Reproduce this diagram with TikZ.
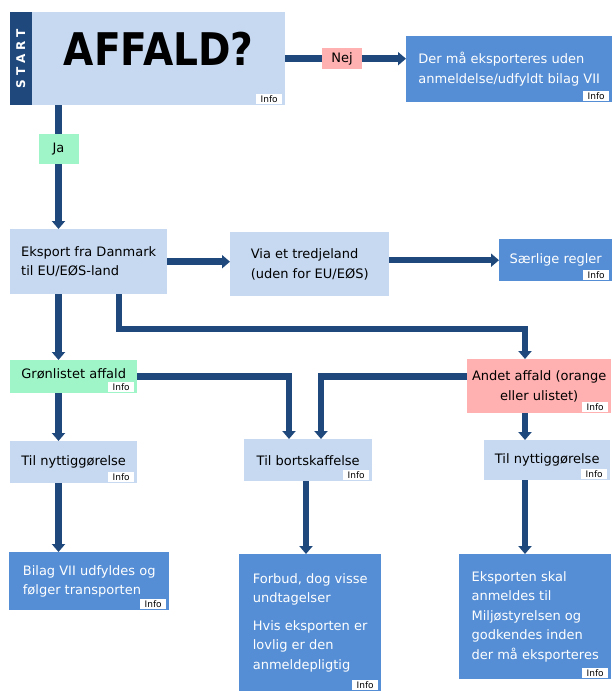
\documentclass[tikz,border=0pt]{standalone}
\usepackage{graphicx}
\usepackage{fontspec}
\setmainfont{DejaVu Sans}
\usetikzlibrary{arrows.meta}

\definecolor{flowblue}{HTML}{1F497D}
\definecolor{boxlight}{HTML}{C6D9F1}
\definecolor{boxmid}{HTML}{558ED5}
\definecolor{boxgreen}{HTML}{A0F5C8}
\definecolor{boxpink}{HTML}{FFB0B0}

\begin{document}
\begin{tikzpicture}[
    x=1pt, y=-1pt,
    box/.style={
        rectangle,
        anchor=north west,
        inner sep=2pt,
        align=left,
        font=\fontsize{13}{19.5}\selectfont
    },
    question/.style={box, fill=boxlight, align=center},
    stepbox/.style={box, fill=boxlight},
    resultbox/.style={box, fill=boxmid, text=white},
    greenbox/.style={box, fill=boxgreen, align=center},
    pinkbox/.style={box, fill=boxpink, align=center},
    answer/.style={
        rectangle,
        inner sep=0pt,
        minimum width=40pt,
        font=\fontsize{13}{15}\selectfont
    },
    infotag/.style={
        rectangle,
        fill=white,
        anchor=south east,
        inner xsep=4.5pt,
        inner ysep=1.2pt,
        font=\fontsize{9}{9}\selectfont
    },
    flow/.style={-{Triangle[width=13pt,length=8pt]}, line width=6.5pt, draw=flowblue}
]
\useasboundingbox (0,0) rectangle (612,691);

% Start
\node[question, minimum width=253pt, minimum height=93pt,
      text height=33pt, text depth=20pt,
      font=\bfseries\fontsize{45}{45}\selectfont] (start) at (32,12)
{\scalebox{0.87}[1]{AFFALD?}};

\node[rectangle, fill=flowblue, anchor=north east, inner sep=0pt,
      minimum width=22pt, minimum height=93pt, text=white,
      font=\bfseries\fontsize{12}{12}\selectfont] (stripe) at (start.north west)
{\rotatebox{90}{S\hspace{4pt}T\hspace{4pt}A\hspace{4pt}R\hspace{4pt}T}};

\node[resultbox, minimum width=206pt, minimum height=66pt] (noreport) at (406,36)
{Der må eksporteres uden\\anmeldelse/udfyldt bilag VII};

% Export route
\node[stepbox, minimum width=157pt, minimum height=65pt] (export) at (10,229)
{Eksport fra Danmark\\til EU/EØS-land};

\node[stepbox, minimum width=159pt, minimum height=64pt] (transit) at (230,232)
{Via et tredjeland\\(uden for EU/EØS)};

\node[resultbox, minimum width=113pt, minimum height=42pt] (special) at (499,239)
{Særlige regler};

% Waste type
\node[greenbox, minimum width=127pt, minimum height=33pt, text height=10pt, text depth=7pt] (green) at (10,360)
{Grønlistet affald};

\node[pinkbox, minimum width=144pt, minimum height=54pt] (other) at (467,359)
{Andet affald (orange\\eller ulistet)};

% Treatment
\node[stepbox, align=center, minimum width=127pt, minimum height=42pt] (recoverL) at (10,441)
{Til nyttiggørelse};

\node[stepbox, align=center, minimum width=128pt, minimum height=42pt] (disposal) at (244,439)
{Til bortskaffelse};

\node[stepbox, align=center, minimum width=126pt, minimum height=40pt] (recoverR) at (484,440)
{Til nyttiggørelse};

% Outcomes
\node[resultbox, minimum width=160pt, minimum height=58pt] (annexVII) at (9,552)
{Bilag VII udfyldes og\\følger transporten};

\node[resultbox, minimum width=142pt, minimum height=137pt] (ban) at (239,554)
{Forbud, dog visse\\undtagelser\\[8pt]Hvis eksporten er\\lovlig er den\\anmeldepligtig};

\node[resultbox, minimum width=152pt, minimum height=125pt] (notify) at (459,554)
{Eksporten skal\\anmeldes til\\Miljøstyrelsen og\\godkendes inden\\der må eksporteres};

% Info tags
\foreach \b in {start, noreport, special, green, other, recoverL, disposal, recoverR, annexVII, ban, notify}
    \node[infotag] (\b-info) at ([xshift=-3pt, yshift=1.5pt]\b.south east) {Info};

% Line columns
\coordinate (colA) at (58.5,0);
\coordinate (colB) at (119,0);
\coordinate (colC) at (289,0);
\coordinate (colD) at (321,0);
\coordinate (colF) at (306,0);
\coordinate (bendE) at (525,329);

% Ja / Nej
\draw[flow] (start.south -| colA) --
    node[answer, fill=boxgreen, minimum height=30pt, pos=0.35] (yes) {Ja}
    (export.north -| colA);

\draw[flow] (start.east) --
    node[answer, fill=boxpink, minimum height=21pt, pos=0.47] (no) {Nej}
    (noreport.west |- start.east);

% Export route
\draw[flow] (export.east) -- (transit.west |- export.east);
\draw[flow] (transit.east |- special.west) -- (special.west);

\draw[flow] (export.south -| colA) -- (green.north -| colA);
\draw[flow] (export.south -| colB) |- (bendE) -- (other.north -| bendE);

% Disposal
\draw[flow] (green.east) -| (disposal.north -| colC);
\draw[flow] (other.west |- green.east) -| (disposal.north -| colD);

% Recovery
\draw[flow] (green.south -| colA) -- (recoverL.north -| colA);
\draw[flow] (other.south -| bendE) -- (recoverR.north -| bendE);

% Outcomes
\draw[flow] (recoverL.south -| colA) -- (annexVII.north -| colA);
\draw[flow] (disposal.south -| colF) -- (ban.north -| colF);
\draw[flow] (recoverR.south -| bendE) -- (notify.north -| bendE);
\end{tikzpicture}
\end{document}
